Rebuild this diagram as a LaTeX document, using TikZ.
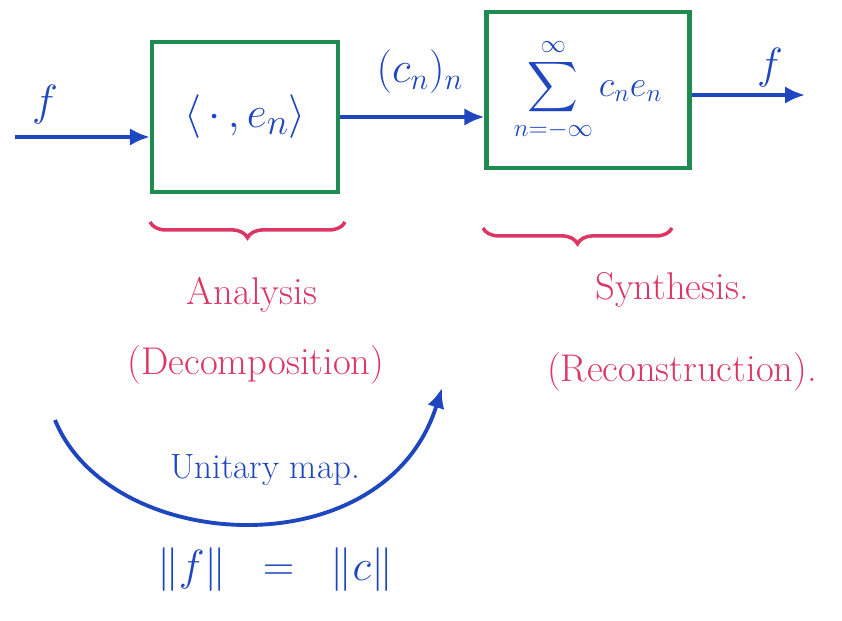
\documentclass[tikz,border=0pt]{standalone}
\usepackage{amsmath, amssymb}
\usepackage{tikz}
\usetikzlibrary{arrows.meta, positioning, decorations.pathreplacing}

\definecolor{penblue}{RGB}{30,70,190}
\definecolor{pengreen}{RGB}{30,140,80}
\definecolor{penred}{RGB}{220,55,100}

\begin{document}
\begin{tikzpicture}[
    x=0.02cm, y=-0.02cm,
    block/.style={rectangle, draw=pengreen, line width=2.4pt, text=penblue},
    flow/.style={draw=penblue, line width=2.2pt, -{Latex[length=4mm, width=3.5mm]}},
    sym/.style={text=penblue, font=\fontsize{26}{30}\selectfont},
    note/.style={text=penred, font=\fontsize{22}{26}\selectfont},
    curly/.style={draw=penred, line width=2pt, decorate, decoration={brace, mirror, amplitude=9pt}}
]
    \useasboundingbox (0,0) rectangle (842,621);

    \node[block, minimum width=3.72cm, minimum height=3cm, font=\fontsize{30}{34}\selectfont] (ana) at (245,117) {$\langle\,\cdot\,, e_n\rangle$};
    \node[block, minimum width=4.06cm, minimum height=3.12cm, font=\fontsize{20}{24}\selectfont] (syn) at (588,90) {$\displaystyle\sum_{n=-\infty}^{\infty} c_n e_n$};

    \coordinate (in) at (15,137);
    \coordinate (out) at (805,95);

    \draw[flow] (in) -- (in -| ana.west);
    \draw[flow] (ana.east) -- (ana.east -| syn.west);
    \draw[flow] (syn.east |- out) -- (out);

    \node[sym] (fin) at (45,105) {$f$};
    \node[sym] (coef) at (420,72) {$(c_n)_n$};
    \node[sym] (fout) at (770,68) {$f$};

    \draw[curly] (150,222) -- (345,222);
    \draw[curly] (483,228) -- (672,228);

    \node[note] (analysis) at (252,295) {Analysis};
    \node[note] (decomp) at (256,365) {(Decomposition)};
    \node[note] (synthesis) at (672,290) {Synthesis.};
    \node[note] (recon) at (682,372) {(Reconstruction).};

    \coordinate (ustart) at (55,420);
    \coordinate (uend) at (442,388);
    \draw[flow] (ustart) .. controls (110,555) and (385,570) .. (uend);
    \node[text=penblue, font=\fontsize{20}{24}\selectfont] (unitary) at (265,470) {Unitary map.};

    \node[sym, font=\fontsize{28}{32}\selectfont] (norms) at (275,570) {$\|f\| \;\;=\;\; \|c\|$};
\end{tikzpicture}
\end{document}
